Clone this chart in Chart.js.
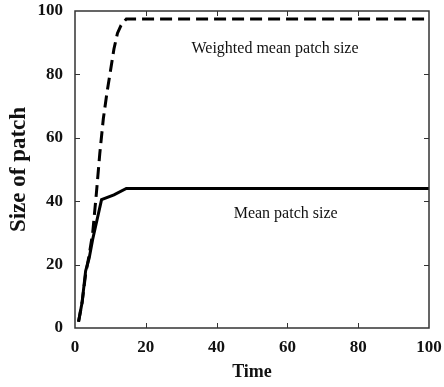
<!DOCTYPE html>
<html>
<head>
<meta charset="utf-8">
<script src="https://cdn.jsdelivr.net/npm/chart.js@4/dist/chart.umd.min.js"></script>
<style>
    html, body { margin: 0; padding: 0; background: #fff; }
    #wrap { width: 444px; height: 387px; }
</style>
</head>
<body>
<div id="wrap"><canvas id="patchChart"></canvas></div>
<script>
// Data
const meanTime = [1, 2, 3, 4, 5, 7.5, 11, 14.5, 100];
const meanSize = [2, 8, 18, 22, 28, 40.5, 42, 44, 44];

const weightedTime = [1, 2, 3, 4, 5, 6, 7, 8, 9, 10, 11, 12, 13, 14.5, 100];
const weightedSize = [2, 8, 17, 23, 30, 42, 55, 66, 74, 81, 88, 93, 95.5, 97.5, 97.5];

const xTicks = [0, 20, 40, 60, 80, 100];
const yTicks = [0, 20, 40, 60, 80, 100];

// text labels, placed in data units
const labels = [
    { text: 'Weighted mean patch size', x: 56.5, y: 88 },
    { text: 'Mean patch size', x: 59.5, y: 36 }
];

const serif = '"Liberation Serif", "DejaVu Serif", serif';

function toPoints(xs, ys) {
    return xs.map((x, i) => ({ x: x, y: ys[i] }));
}

// box + inward ticks on all four sides, plus the text labels
const framePlugin = {
    id: 'frame',
    afterDraw(chart) {
        const ctx = chart.ctx;
        const a = chart.chartArea;
        const xs = chart.scales.x;
        const ys = chart.scales.y;
        const len = 5;
        ctx.save();
        ctx.strokeStyle = '#333';
        ctx.lineWidth = 1.5;
        ctx.strokeRect(a.left, a.top, a.right - a.left, a.bottom - a.top);
        ctx.lineWidth = 1;
        ctx.beginPath();
        xTicks.slice(1, -1).forEach(v => {
            const px = Math.round(xs.getPixelForValue(v)) + 0.5;
            ctx.moveTo(px, a.bottom); ctx.lineTo(px, a.bottom - len);
            ctx.moveTo(px, a.top); ctx.lineTo(px, a.top + len);
        });
        yTicks.slice(1, -1).forEach(v => {
            const py = Math.round(ys.getPixelForValue(v)) + 0.5;
            ctx.moveTo(a.left, py); ctx.lineTo(a.left + len, py);
            ctx.moveTo(a.right, py); ctx.lineTo(a.right - len, py);
        });
        ctx.stroke();

        ctx.fillStyle = '#111';
        ctx.font = '16px ' + serif;
        ctx.textAlign = 'center';
        ctx.textBaseline = 'middle';
        labels.forEach(l => {
            ctx.fillText(l.text, xs.getPixelForValue(l.x), ys.getPixelForValue(l.y));
        });
        ctx.restore();
    }
};

new Chart(document.getElementById('patchChart'), {
    type: 'line',
    data: {
        datasets: [
            {
                label: 'Weighted mean patch size',
                data: toPoints(weightedTime, weightedSize),
                borderColor: '#000',
                borderWidth: 3,
                borderDash: [12, 6],
                pointRadius: 0,
                tension: 0,
                fill: false
            },
            {
                label: 'Mean patch size',
                data: toPoints(meanTime, meanSize),
                borderColor: '#000',
                borderWidth: 3,
                pointRadius: 0,
                tension: 0,
                fill: false
            }
        ]
    },
    options: {
        responsive: true,
        maintainAspectRatio: false,
        animation: false,
        layout: { padding: { top: 11, right: 15, left: 0, bottom: 0 } },
        plugins: {
            legend: { display: false },
            tooltip: { enabled: false }
        },
        scales: {
            x: {
                type: 'linear',
                min: 0,
                max: 100,
                afterFit(scale) {
                    scale.height = 59;
                    scale.paddingLeft = 0;
                    scale.paddingRight = 0;
                },
                afterBuildTicks(scale) { scale.ticks = xTicks.map(v => ({ value: v })); },
                grid: { display: false, drawTicks: false },
                border: { display: false },
                ticks: {
                    padding: 9,
                    color: '#111',
                    font: { family: serif, size: 17, weight: 'bold' }
                },
                title: {
                    display: true,
                    text: 'Time',
                    color: '#111',
                    padding: { top: 0, bottom: 4 },
                    font: { family: serif, size: 18, weight: 'bold' }
                }
            },
            y: {
                min: 0,
                max: 100,
                afterFit(scale) {
                    scale.width = 75;
                    scale.paddingTop = 0;
                    scale.paddingBottom = 0;
                },
                afterBuildTicks(scale) { scale.ticks = yTicks.map(v => ({ value: v })); },
                grid: { display: false, drawTicks: false },
                border: { display: false },
                ticks: {
                    padding: 12,
                    color: '#111',
                    font: { family: serif, size: 17, weight: 'bold' }
                },
                title: {
                    display: true,
                    text: 'Size of patch',
                    color: '#111',
                    padding: { top: 5, bottom: 0 },
                    font: { family: serif, size: 23, weight: 'bold' }
                }
            }
        }
    },
    plugins: [framePlugin]
});
</script>
</body>
</html>
